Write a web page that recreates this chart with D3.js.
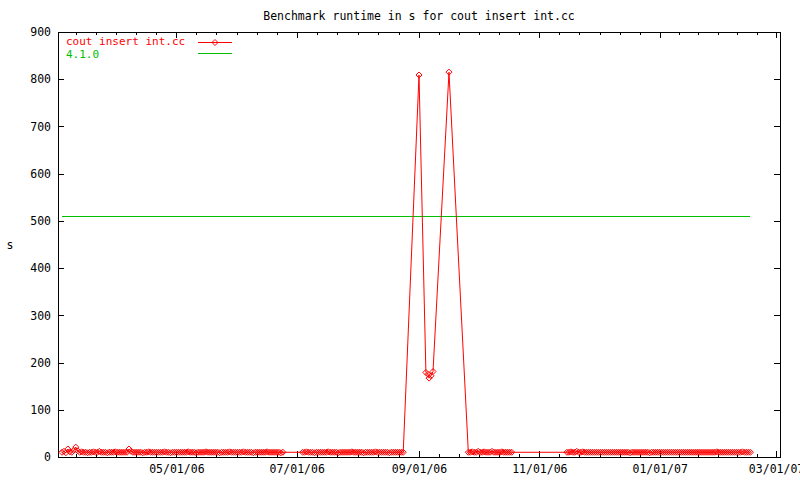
<!DOCTYPE html>
<html><head><meta charset="utf-8">
<script src="https://cdn.jsdelivr.net/npm/d3@7"></script>
<style>
body{margin:0;background:#fff}
svg{display:block}
text{font-family:"DejaVu Sans Mono",monospace;font-size:11.5px}
</style>
</head><body>
<svg id="chart" width="800" height="480"></svg>
<script>
// ---- data (day offsets counted from 2006-03-02) ----
const titleText = "Benchmark runtime in s for cout insert int.cc";
const seriesName = "cout insert int.cc";
const refName = "4.1.0";
const refValue = 510;
const runStarts = [2, 124, 208, 258];
const run1 = [
  10,12,9,17,11,10,14,21,13,10,
  11,10,10,9,10,10,11,10,10,12,
  10,10,10,9,10,10,10,11,10,10,
  10,10,10,10,17,12,10,10,10,10,
  10,9,10,10,11,10,10,10,10,10,
  10,10,11,10,10,9,10,10,10,10,
  10,10,10,10,11,10,10,10,9,10,
  10,10,10,11,10,10,10,10,10,10,
  9,10,10,10,10,11,10,10,10,10,
  10,10,11,10,10,10,10,9,10,10,
  10,10,10,10,11,10,10,10,10,10,
  10,9,10];
const run2 = [
  10,10,11,10,10,10,9,10,10,10,
  10,10,10,11,10,10,10,10,9,10,
  10,10,10,10,10,11,10,10,10,10,
  10,9,10,10,10,10,10,11,10,10,
  10,10,10,10,9,10,10,10,10,10,
  10,10];
const spikeDays   = [183.0, 186.5, 187.6, 188.1, 189.1, 190.1, 198.2];
const spikeValues = [809,   179,   175,   167,   172,   181,   815];
const run3 = [10,10,11,10,10,12,10,10,11,10,10,10,12,10,10,10,10,11,10,10,10,10,10];
const run4 = [
  10,10,11,10,10,12,10,10,11,10,
  10,10,10,10,10,10,10,10,10,10,
  10,10,10,10,10,10,10,10,10,10,
  10,10,9,10,10,10,10,10,10,10,
  10,10,9,10,10,10,10,10,10,10,
  10,10,10,10,10,10,10,10,10,10,
  10,10,10,10,10,10,10,10,10,10,
  10,10,10,10,10,10,11,10,10,10,
  10,10,10,10,10,10,10,10,10,11,
  10,10,10,10];
const yTicks = [0,100,200,300,400,500,600,700,800,900];
const domainDays = [0, 366];

// ---- build ----
const origin = Date.UTC(2006, 2, 2);
const toDate = d => new Date(origin + d * 864e5);
const pts = [];
function addRun(start, vals){ vals.forEach((v,i)=>pts.push({date: toDate(start+i), value: v})); }
addRun(runStarts[0], run1);
addRun(runStarts[1], run2);
spikeDays.forEach((d,i)=>pts.push({date: toDate(d), value: spikeValues[i]}));
addRun(runStarts[2], run3);
addRun(runStarts[3], run4);

const L = 58, R = 780, T = 32, B = 457;
const svg = d3.select("#chart");
const x = d3.scaleUtc().domain(domainDays.map(toDate)).range([L, R]);
const y = d3.scaleLinear().domain([0, 900]).range([B, T]);

const majors = d3.utcMonth.every(2).range(x.domain()[0], x.domain()[1]);
const ext = [d3.utcMonth.offset(majors[0], -2), ...majors, d3.utcMonth.offset(majors[majors.length-1], 2)];
const minors = [];
for (let i = 0; i < ext.length - 1; i++) {
  const a = +ext[i], b = +ext[i+1];
  for (let k = 1; k < 6; k++) minors.push(new Date(a + k*(b-a)/6));
}
const [d0, d1] = x.domain();
const minorIn = minors.filter(d => d > d0 && d < d1);

const fmt = d3.utcFormat("%m/%d/%y");
function styleAxis(g){ g.select(".domain").remove(); g.selectAll("line").attr("stroke","#000").attr("shape-rendering","crispEdges"); g.selectAll("text").attr("fill","#000"); }

svg.append("g").attr("transform",`translate(0,${B})`)
  .call(d3.axisBottom(x).tickValues(majors).tickFormat(fmt).tickSizeInner(-6).tickSizeOuter(0).tickPadding(8))
  .call(styleAxis).selectAll("text").style("font-family",'"DejaVu Sans Mono",monospace').style("font-size","11.5px");
svg.append("g").attr("transform",`translate(0,${B})`)
  .call(d3.axisBottom(x).tickValues(minorIn).tickFormat("").tickSizeInner(-3).tickSizeOuter(0)).call(styleAxis);
svg.append("g").attr("transform",`translate(0,${T})`)
  .call(d3.axisTop(x).tickValues(majors).tickFormat("").tickSizeInner(-6).tickSizeOuter(0)).call(styleAxis);
svg.append("g").attr("transform",`translate(0,${T})`)
  .call(d3.axisTop(x).tickValues(minorIn).tickFormat("").tickSizeInner(-3).tickSizeOuter(0)).call(styleAxis);
svg.append("g").attr("transform",`translate(${L},0)`)
  .call(d3.axisLeft(y).tickValues(yTicks).tickSizeInner(-6).tickSizeOuter(0).tickPadding(7))
  .call(styleAxis).selectAll("text").style("font-family",'"DejaVu Sans Mono",monospace').style("font-size","11.5px");
svg.append("g").attr("transform",`translate(${R},0)`)
  .call(d3.axisRight(y).tickValues(yTicks).tickFormat("").tickSizeInner(-6).tickSizeOuter(0)).call(styleAxis);

svg.append("rect").attr("x",L+0.5).attr("y",T+0.5).attr("width",R-L).attr("height",B-T)
  .attr("fill","none").attr("stroke","#000").attr("shape-rendering","crispEdges");

// title & axis label
svg.append("text").attr("x",(L+R)/2).attr("y",20).attr("text-anchor","middle").attr("fill","#000").text(titleText);
svg.append("text").attr("x",10).attr("y",249).attr("text-anchor","middle").attr("fill","#000").text("s");

// reference line
const first = pts[0].date, last = pts[pts.length-1].date;
svg.append("line").attr("x1",x(first)).attr("x2",x(last)).attr("y1",Math.round(y(refValue))+0.5).attr("y2",Math.round(y(refValue))+0.5)
  .attr("stroke","#00c000").attr("stroke-width",1).attr("shape-rendering","crispEdges");

// series line
const line = d3.line().x(d=>x(d.date)).y(d=>y(d.value));
svg.append("path").datum(pts).attr("d",line).attr("fill","none").attr("stroke","#ff0000").attr("stroke-width",1);

const diamond = "M0,-3L3,0L0,3L-3,0Z";
svg.append("g").selectAll("path").data(pts).join("path")
  .attr("transform",d=>`translate(${x(d.date)},${y(d.value)})`)
  .attr("d",diamond).attr("fill","none").attr("stroke","#ff0000").attr("stroke-width",1);

// legend
svg.append("text").attr("x",66).attr("y",45).attr("fill","#ff0000").style("font-size","11px").text(seriesName);
svg.append("line").attr("x1",198).attr("x2",232).attr("y1",42.5).attr("y2",42.5).attr("stroke","#ff0000").attr("shape-rendering","crispEdges");
svg.append("path").attr("transform","translate(215,42.5)").attr("d",diamond).attr("fill","none").attr("stroke","#ff0000");
svg.append("text").attr("x",66).attr("y",58).attr("fill","#00c000").style("font-size","11px").text(refName);
svg.append("line").attr("x1",198).attr("x2",232).attr("y1",53.5).attr("y2",53.5).attr("stroke","#00c000").attr("shape-rendering","crispEdges");
</script>
</body></html>
